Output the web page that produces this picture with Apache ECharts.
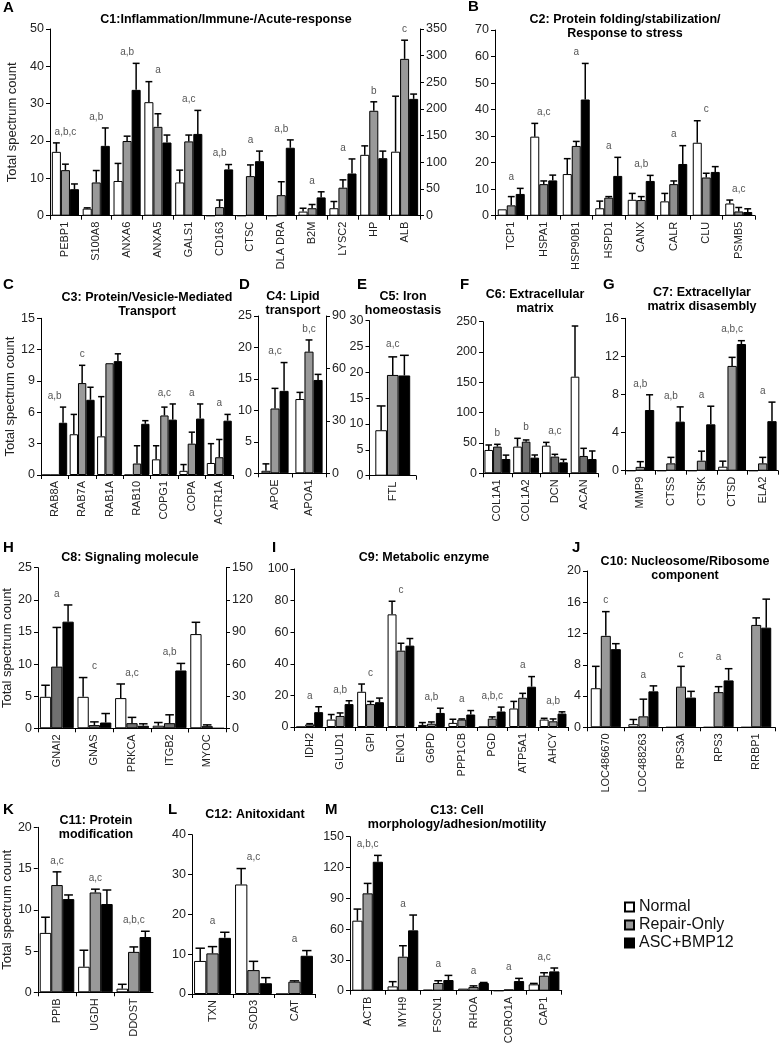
<!DOCTYPE html>
<html><head><meta charset="utf-8">
<script src="https://cdn.jsdelivr.net/npm/echarts@6/dist/echarts.min.js"></script>
<style>html,body{margin:0;padding:0;background:#fff}#c{width:779px;height:1050px}</style>
</head><body><div id="c"></div>
<script>
// ---------------- DATA ----------------
const seriesNames = ['Normal', 'Repair-Only', 'ASC+BMP12'];

// A: C1 Inflammation (left axis)
const aCats = ['PEBP1','S100A8','ANXA6','ANXA5','GALS1','CD163','CTSC','DLA DRA','B2M','LYSC2','HP'];
const aNormal = [17.1, 1.9, 9.3, 30.4, 8.9, 0, 0, 0, 1.1, 2.0, 16.3];
const aNormalErr = [2.4, 0.2, 4.7, 5.5, 3.3, 0, 0, 0, 0.9, 1.8, 2.4];
const aRepair = [12.2, 8.9, 20.0, 23.8, 19.9, 2.3, 10.6, 5.5, 2.0, 7.5, 28.1];
const aRepairErr = [1.6, 3.2, 1.3, 3.5, 1.7, 1.9, 3.0, 3.6, 1.0, 2.1, 2.4];
const aAsc = [7.1, 18.7, 33.7, 19.6, 21.9, 12.4, 14.6, 18.2, 4.9, 11.3, 15.4];
const aAscErr = [1.4, 4.8, 7.1, 2.0, 6.3, 1.3, 2.7, 2.1, 1.5, 3.9, 1.9];
const aLetters = ['a,b,c','a,b','a,b','a','a,c','a,b','a','a,b','a','a','b'];
// A: ALB (right axis)
const albCats = ['ALB'];
const albNormal = [120], albNormalErr = [104];
const albRepair = [294], albRepairErr = [35];
const albAsc = [219], albAscErr = [9];
const albLetters = ['c'];

// B: C2
const bCats = ['TCP1','HSPA1','HSP90B1','HSPD1','CANX','CALR','CLU','PSMB5'];
const bNormal = [2.4, 29.8, 15.7, 2.8, 6.0, 5.4, 27.5, 4.6];
const bNormalErr = [0, 5.0, 5.8, 2.7, 2.4, 3.0, 8.3, 1.3];
const bRepair = [3.9, 11.9, 26.3, 6.8, 5.9, 11.9, 14.4, 1.6];
const bRepairErr = [3.3, 1.2, 1.7, 0.4, 1.3, 1.2, 1.6, 1.5];
const bAsc = [8.2, 13.3, 43.8, 15.0, 13.1, 19.5, 16.5, 1.4];
const bAscErr = [2.1, 2.0, 13.6, 7.0, 2.1, 6.9, 2.0, 1.2];
const bLetters = ['a','a,c','a','a','a,b','a','c','a,c'];

// C: C3
const cCats = ['RAB8A','RAB7A','RAB1A','RAB10','COPG1','COPA','ACTR1A'];
const cNormal = [0, 3.9, 3.7, 0, 1.5, 0.4, 1.15];
const cNormalErr = [0, 1.9, 3.8, 0, 1.3, 0.6, 1.85];
const cRepair = [0, 8.8, 10.7, 1.1, 5.7, 3.0, 1.7];
const cRepairErr = [0, 1.7, 0, 1.7, 0.8, 1.1, 1.7];
const cAsc = [5.0, 7.2, 10.9, 4.9, 5.3, 5.4, 5.2];
const cAscErr = [1.5, 1.2, 0.7, 0.3, 1.5, 1.4, 0.6];
const cLetters = ['a,b','c','','','a,c','a','a'];

// D: C4 (APOE left axis, APOA1 right axis)
const dCats = ['APOE'];
const dNormal = [0.4], dNormalErr = [1.1];
const dRepair = [10.3], dRepairErr = [3.2];
const dAsc = [13.1], dAscErr = [4.5];
const dLetters = ['a,c'];
const d2Cats = ['APOA1'];
const d2Normal = [42.5], d2NormalErr = [3.8];
const d2Repair = [69.6], d2RepairErr = [6.7];
const d2Asc = [53.4], d2AscErr = [3.2];
const d2Letters = ['b,c'];

// E: C5
const eCats = ['FTL'];
const eNormal = [8.8], eNormalErr = [4.7];
const eRepair = [19.5], eRepairErr = [3.5];
const eAsc = [19.4], eAscErr = [3.9];
const eLetters = ['a,c'];

// F: C6
const fCats = ['COL1A1','COL1A2','DCN','ACAN'];
const fNormal = [38.5, 44, 45.6, 159.3];
const fNormalErr = [8.2, 13.7, 5.4, 83.6];
const fRepair = [44, 52.2, 27.5, 28.6];
const fRepairErr = [3.8, 2.8, 3.8, 12.6];
const fAsc = [23.6, 25.8, 18.1, 23.6];
const fAscErr = [6.4, 4.4, 4.9, 13.2];
const fLetters = ['b','b','a,c',''];

// G: C7
const gCats = ['MMP9','CTSS','CTSK','CTSD','ELA2'];
const gNormal = [0, 0, 0, 0.42, 0];
const gNormalErr = [0, 0, 0, 0.58, 0];
const gRepair = [0.4, 0.77, 1.05, 11.0, 0.77];
const gRepairErr = [0.55, 0.63, 1.0, 0.9, 0.63];
const gAsc = [6.37, 5.15, 4.87, 13.3, 5.2];
const gAscErr = [1.6, 1.55, 1.9, 0.35, 2.0];
const gLetters = ['a,b','a,b','a','a,b,c','a'];

// H: C8 (left axis) + MYOC (right axis)
const hCats = ['GNAI2','GNAS','PRKCA','ITGB2'];
const hNormal = [4.9, 4.9, 4.7, 0.4];
const hNormalErr = [1.8, 3.0, 2.2, 0.5];
const hRepair = [9.6, 0.5, 0.8, 0.8];
const hRepairErr = [6.1, 0.5, 0.9, 1.3];
const hAsc = [16.6, 0.9, 0.4, 9.0];
const hAscErr = [2.6, 1.4, 0.3, 1.1];
const hLetters = ['a','c','a,c','a,b'];
const h2Cats = ['MYOC'];
const h2Normal = [88], h2NormalErr = [11];
const h2Repair = [2], h2RepairErr = [1.2];
const h2Asc = [0], h2AscErr = [0];
const h2Letters = [''];

// I: C9
const iCats = ['IDH2','GLUD1','GPI','ENO1','G6PD','PPP1CB','PGD','ATP5A1','AHCY'];
const iNormal = [0, 4.7, 22.3, 71.3, 1.3, 2.6, 0, 11.7, 4.7];
const iNormalErr = [0, 3.2, 4.9, 8.3, 1.5, 2.3, 0, 4.5, 0.8];
const iRepair = [1.7, 7.0, 14.5, 48.3, 2.1, 4.7, 5.3, 18.5, 3.6];
const iRepairErr = [0.4, 1.9, 1.7, 4.7, 1.1, 0.4, 1.1, 2.8, 1.5];
const iAsc = [9.4, 14.5, 15.7, 51.5, 8.9, 7.9, 9.8, 25.5, 8.5];
const iAscErr = [3.4, 2.1, 2.6, 4.5, 3.0, 2.5, 2.8, 6.4, 1.1];
const iLetters = ['a','a,b','c','c','a,b','a','a,b,c','a','a,b'];

// J: C10
const jCats = ['LOC486670','LOC488263','RPS3A','RPS3','RRBP1'];
const jNormal = [5.0, 0.4, 0, 0, 0];
const jNormalErr = [2.8, 0.6, 0, 0, 0];
const jRepair = [11.7, 1.4, 5.2, 4.5, 13.1];
const jRepairErr = [3.1, 2.2, 2.6, 0.7, 0.9];
const jAsc = [10.0, 4.6, 3.8, 6.0, 12.75];
const jAscErr = [0.7, 0.7, 0.8, 1.5, 3.65];
const jLetters = ['c','a','c','a',''];

// K: C11
const kCats = ['PPIB','UGDH','DDOST'];
const kNormal = [7.2, 3.1, 0.44];
const kNormalErr = [1.9, 2.0, 0.53];
const kRepair = [13.0, 12.1, 4.9];
const kRepairErr = [1.6, 0.4, 0.6];
const kAsc = [11.3, 10.7, 6.7];
const kAscErr = [0.5, 1.7, 0.7];
const kLetters = ['a,c','a,c','a,b,c'];

// L: C12
const lCats = ['TXN','SOD3','CAT'];
const lNormal = [8.3, 27.5, 0];
const lNormalErr = [3.2, 4.0, 0];
const lRepair = [10.2, 6.0, 3.1];
const lRepairErr = [1.7, 2.2, 0.2];
const lAsc = [14.1, 2.7, 9.6];
const lAscErr = [1.4, 1.4, 1.3];
const lLetters = ['a','a,c','a'];

// M: C13
const mCats = ['ACTB','MYH9','FSCN1','RHOA','CORO1A','CAP1'];
const mNormal = [68.2, 4.2, 1.0, 2.0, 0, 6.2];
const mNormalErr = [11.3, 4.6, 0, 0, 0, 0.9];
const mRepair = [94.8, 33.1, 7.5, 3.5, 1.3, 14.6];
const mRepairErr = [9.7, 10.7, 2.2, 1.2, 0, 2.9];
const mAsc = [125.6, 58.8, 10.4, 7.5, 9.4, 18.8];
const mAscErr = [6.2, 14.9, 4.5, 0.5, 2.6, 3.3];
const mLetters = ['a,b,c','a','a','a','a','a,c'];

// ---------------- LAYOUT ----------------
const FONT = '"Liberation Sans", Arial, sans-serif';
function pack(cats, n, r, s, ne, re, se, lt) { return {cats, vals:[n, r, s], errs:[ne, re, se], letters: lt}; }

const gridSpecs = [
  {d: pack(aCats,aNormal,aRepair,aAsc,aNormalErr,aRepairErr,aAscErr,aLetters), box:[50,29,339.2,186.7], max:50, step:10, side:'left', gap:0.12, gray:'#999', yName:31},
  {d: pack(albCats,albNormal,albRepair,albAsc,albNormalErr,albRepairErr,albAscErr,albLetters), box:[389.2,29,30.8,186.7], max:350, step:50, side:'right', gap:0.12, gray:'#999'},
  {d: pack(bCats,bNormal,bRepair,bAsc,bNormalErr,bRepairErr,bAscErr,bLetters), box:[495,30,260,185.7], max:70, step:10, side:'left', gap:0.17, gray:'#8f8f8f'},
  {d: pack(cCats,cNormal,cRepair,cAsc,cNormalErr,cRepairErr,cAscErr,cLetters), box:[41,318.3,192,156.7], max:15, step:3, side:'left', gap:0.09, gray:'#9a9a9a', yName:24},
  {d: pack(dCats,dNormal,dRepair,dAsc,dNormalErr,dRepairErr,dAscErr,dLetters), box:[258,316,34,157.3], max:25, step:5, side:'left', gap:0.2, gray:'#999'},
  {d: pack(d2Cats,d2Normal,d2Repair,d2Asc,d2NormalErr,d2RepairErr,d2AscErr,d2Letters), box:[292,316,34,157.3], max:90, step:30, side:'right', gap:0.2, gray:'#999'},
  {d: pack(eCats,eNormal,eRepair,eAsc,eNormalErr,eRepairErr,eAscErr,eLetters), box:[369.5,320.7,46.5,155], max:30, step:5, side:'left', gap:0.25, gray:'#999'},
  {d: pack(fCats,fNormal,fRepair,fAsc,fNormalErr,fRepairErr,fAscErr,fLetters), box:[483,321.7,115,151.6], max:250, step:50, side:'left', gap:0.10, gray:'#707070'},
  {d: pack(gCats,gNormal,gRepair,gAsc,gNormalErr,gRepairErr,gAscErr,gLetters), box:[625,318.3,153,152.4], max:16, step:4, side:'left', gap:0.09, gray:'#999'},
  {d: pack(hCats,hNormal,hRepair,hAsc,hNormalErr,hRepairErr,hAscErr,hLetters), box:[38,567.7,150.4,160.6], max:25, step:5, side:'left', gap:0.10, gray:'#707070', yName:20},
  {d: pack(h2Cats,h2Normal,h2Repair,h2Asc,h2NormalErr,h2RepairErr,h2AscErr,h2Letters), box:[188.4,567.7,37.6,160.6], max:150, step:30, side:'right', gap:0.10, gray:'#707070'},
  {d: pack(iCats,iNormal,iRepair,iAsc,iNormalErr,iRepairErr,iAscErr,iLetters), box:[294.5,569,273.8,158], max:100, step:20, side:'left', gap:0.12, gray:'#999'},
  {d: pack(jCats,jNormal,jRepair,jAsc,jNormalErr,jRepairErr,jAscErr,jLetters), box:[587,571,188,156.3], max:20, step:4, side:'left', gap:0.2, gray:'#999'},
  {d: pack(kCats,kNormal,kRepair,kAsc,kNormalErr,kRepairErr,kAscErr,kLetters), box:[36,827.3,117,165], max:20, step:5, side:'left', gap:0.10, gray:'#999', yName:18},
  {d: pack(lCats,lNormal,lRepair,lAsc,lNormalErr,lRepairErr,lAscErr,lLetters), box:[192,834.7,123,159.3], max:40, step:10, side:'left', gap:0.10, gray:'#999'},
  {d: pack(mCats,mNormal,mRepair,mAsc,mNormalErr,mRepairErr,mAscErr,mLetters), box:[350,836.7,211.7,154], max:150, step:30, side:'left', gap:0.13, gray:'#999'}
];

const titles = [
  {x:226, y:20, lines:['C1:Inflammation/Immune-/Acute-response']},
  {x:625, y:20, lines:['C2: Protein folding/stabilization/','Response to stress']},
  {x:147, y:298, lines:['C3: Protein/Vesicle-Mediated','Transport']},
  {x:293, y:297, lines:['C4: Lipid','transport']},
  {x:403, y:297, lines:['C5: Iron','homeostasis']},
  {x:535, y:295, lines:['C6: Extracellular','matrix']},
  {x:702, y:293, lines:['C7: Extracellylar','matrix disasembly']},
  {x:130, y:558, lines:['C8: Signaling molecule']},
  {x:424, y:558, lines:['C9: Metabolic enzyme']},
  {x:685, y:562, lines:['C10: Nucleosome/Ribosome','component']},
  {x:96, y:821, lines:['C11: Protein','modification']},
  {x:255, y:815, lines:['C12: Anitoxidant']},
  {x:457, y:811, lines:['C13: Cell','morphology/adhesion/motility']}
];
const panelLetters = [
  ['A',3,8],['B',468,7],['C',3,285],['D',239,285],['E',357,285],['F',460,285],['G',603,285],
  ['H',3,548],['I',272,548],['J',572,548],['K',3,810],['L',168,810],['M',325,810]
];

// ---------------- OPTION ----------------
const option = {
  animation: false,
  backgroundColor: '#fff',
  grid: [], xAxis: [], yAxis: [], series: [], graphic: [],
  legend: {
    orient: 'vertical', left: 619, top: 894, itemWidth: 9, itemHeight: 9, itemGap: 2,
    icon: 'rect', selectedMode: false, data: seriesNames,
    textStyle: {fontSize: 16, color: '#111', fontFamily: FONT}
  }
};

gridSpecs.forEach((g, gi) => {
  option.grid.push({left: g.box[0], top: g.box[1], width: g.box[2], height: g.box[3]});
  option.xAxis.push({
    gridIndex: gi, type: 'category', data: g.d.cats, boundaryGap: true,
    axisLine: {show: true, lineStyle: {color: '#000', width: 1}},
    axisTick: {show: true, length: 4, interval: 0, lineStyle: {color: '#000'}},
    axisLabel: {rotate: 90, interval: 0, fontSize: 11, color: '#222', fontFamily: FONT, margin: 6},
    splitLine: {show: false}
  });
  option.yAxis.push({
    gridIndex: gi, type: 'value', min: 0, max: g.max, interval: g.step, position: g.side,
    axisLine: {show: true, lineStyle: {color: '#000', width: 1}},
    axisTick: {show: true, length: 4, lineStyle: {color: '#000'}},
    axisLabel: {fontSize: 12.5, color: '#222', fontFamily: FONT, margin: 6},
    splitLine: {show: false},
    name: g.yName ? 'Total spectrum count' : '', nameLocation: 'middle', nameGap: g.yName || 15,
    nameRotate: 90, nameTextStyle: {fontSize: 13, color: '#222', fontFamily: FONT}
  });
  const colors = ['#ffffff', g.gray, '#000000'];
  for (let k = 0; k < 3; k++) {
    option.series.push({
      type: 'bar', name: seriesNames[k], xAxisIndex: gi, yAxisIndex: gi,
      data: g.d.vals[k], barGap: '0%', barCategoryGap: (g.gap * 100) + '%',
      itemStyle: {color: colors[k], borderColor: '#000', borderWidth: 1}, silent: true
    });
  }
  option.series.push({
    type: 'custom', xAxisIndex: gi, yAxisIndex: gi, z: 5, silent: true,
    data: g.d.cats.map((c, i) => [i, 0]), encode: {x: 0, y: 1},
    renderItem: function (params, api) {
      const i = params.dataIndex;
      const band = api.size([1, 0])[0];
      const bw = band * (1 - g.gap) / 3;
      const base = api.coord([i, 0]);
      const cx = base[0];
      let minY = base[1];
      const children = [];
      for (let k = 0; k < 3; k++) {
        const v = g.d.vals[k][i], e = g.d.errs[k][i];
        const x = cx + (k - 1) * bw;
        const y0 = api.coord([i, v])[1];
        minY = Math.min(minY, y0);
        if (e > 0) {
          const yt = api.coord([i, v + e])[1];
          minY = Math.min(minY, yt);
          const cw = bw * 0.38;
          children.push({type: 'line', shape: {x1: x, y1: y0, x2: x, y2: yt}, style: {stroke: '#000', lineWidth: 1.5}});
          children.push({type: 'line', shape: {x1: x - cw, y1: yt, x2: x + cw, y2: yt}, style: {stroke: '#000', lineWidth: 1.5}});
        }
      }
      const lt = g.d.letters[i];
      if (lt) {
        children.push({type: 'text', x: cx, y: minY - 11,
          style: {text: lt, textAlign: 'center', textVerticalAlign: 'middle', fill: '#555', font: '10px ' + FONT}});
      }
      return {type: 'group', children: children};
    }
  });
});

titles.forEach(t => {
  t.lines.forEach((ln, li) => {
    option.graphic.push({type: 'text', x: t.x, y: t.y + li * 14, silent: true,
      style: {text: ln, textAlign: 'center', textVerticalAlign: 'middle', fill: '#000', font: 'bold 12.5px ' + FONT}});
  });
});
panelLetters.forEach(p => {
  option.graphic.push({type: 'text', x: p[1], y: p[2], silent: true,
    style: {text: p[0], textAlign: 'left', textVerticalAlign: 'middle', fill: '#000', font: 'bold 15px ' + FONT}});
});

const chart = echarts.init(document.getElementById('c'), null, {renderer: 'canvas'});
chart.setOption(option);
</script></body></html>
